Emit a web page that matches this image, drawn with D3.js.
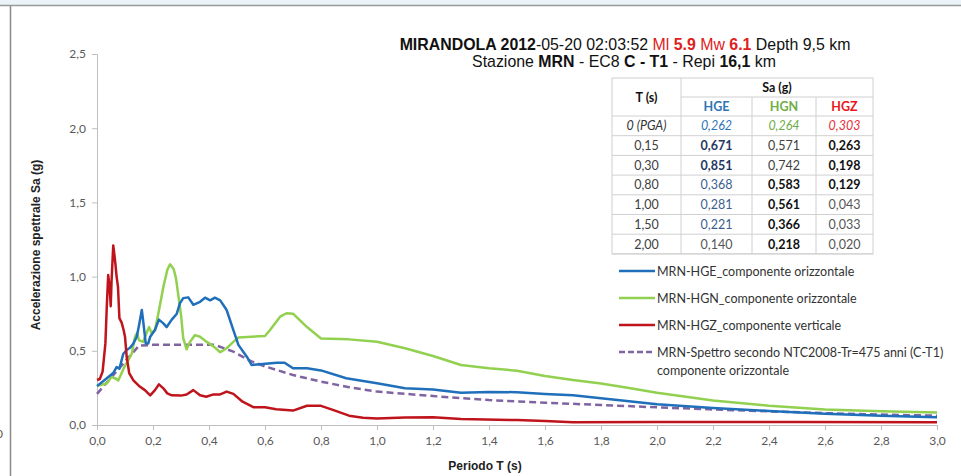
<!DOCTYPE html>
<html><head><meta charset="utf-8">
<script src="https://cdn.jsdelivr.net/npm/d3@7"></script>
<style>
html,body{margin:0;padding:0;background:#fff;}
svg{display:block;}
</style></head>
<body>
<script>
// ---------- DATA ----------
const xTicks = [0,0.2,0.4,0.6,0.8,1.0,1.2,1.4,1.6,1.8,2.0,2.2,2.4,2.6,2.8,3.0];
const yTicks = [0,0.5,1.0,1.5,2.0,2.5];

// [T (s), Sa (g)]
const hge = [[0,0.262],[0.035,0.315],[0.058,0.35],[0.07,0.39],[0.08,0.38],[0.094,0.48],[0.106,0.505],[0.118,0.52],[0.13,0.55],[0.142,0.595],[0.15,0.671],[0.16,0.775],[0.165,0.70],[0.174,0.55],[0.183,0.55],[0.19,0.595],[0.207,0.64],[0.221,0.71],[0.237,0.685],[0.249,0.66],[0.267,0.71],[0.285,0.75],[0.296,0.82],[0.308,0.855],[0.326,0.86],[0.344,0.81],[0.368,0.83],[0.386,0.858],[0.404,0.84],[0.421,0.858],[0.44,0.84],[0.463,0.775],[0.487,0.64],[0.505,0.54],[0.535,0.46],[0.552,0.405],[0.582,0.41],[0.642,0.42],[0.67,0.42],[0.70,0.382],[0.75,0.382],[0.8,0.368],[0.89,0.315],[1.0,0.281],[1.1,0.247],[1.2,0.24],[1.3,0.218],[1.4,0.223],[1.5,0.221],[1.6,0.209],[1.7,0.2],[1.8,0.18],[1.9,0.16],[2.0,0.14],[2.2,0.115],[2.4,0.095],[2.6,0.075],[2.8,0.062],[3.0,0.052]];

const hgn = [[0,0.264],[0.035,0.28],[0.052,0.325],[0.07,0.31],[0.076,0.30],[0.088,0.35],[0.1,0.40],[0.11,0.43],[0.124,0.48],[0.136,0.595],[0.143,0.62],[0.15,0.571],[0.165,0.56],[0.177,0.62],[0.186,0.66],[0.195,0.62],[0.207,0.64],[0.219,0.75],[0.237,0.93],[0.251,1.045],[0.261,1.083],[0.274,1.05],[0.282,0.99],[0.3,0.742],[0.308,0.585],[0.32,0.51],[0.332,0.56],[0.35,0.606],[0.368,0.595],[0.392,0.56],[0.416,0.53],[0.44,0.49],[0.463,0.517],[0.487,0.56],[0.505,0.59],[0.6,0.60],[0.618,0.64],[0.654,0.73],[0.677,0.753],[0.7,0.75],[0.75,0.66],[0.8,0.583],[0.9,0.577],[1.0,0.561],[1.1,0.517],[1.2,0.465],[1.3,0.404],[1.4,0.382],[1.5,0.366],[1.6,0.33],[1.7,0.303],[1.8,0.28],[1.9,0.25],[2.0,0.218],[2.2,0.165],[2.4,0.13],[2.6,0.105],[2.8,0.092],[3.0,0.085]];

const hgz = [[0,0.303],[0.01,0.31],[0.02,0.36],[0.03,0.55],[0.035,0.80],[0.04,1.01],[0.045,0.93],[0.049,0.80],[0.052,0.97],[0.058,1.21],[0.062,1.15],[0.066,1.08],[0.07,1.0],[0.075,0.93],[0.08,0.72],[0.088,0.69],[0.095,0.64],[0.1,0.595],[0.106,0.46],[0.115,0.35],[0.13,0.30],[0.15,0.263],[0.171,0.235],[0.19,0.20],[0.207,0.235],[0.221,0.274],[0.237,0.247],[0.251,0.213],[0.267,0.20],[0.3,0.198],[0.32,0.205],[0.344,0.235],[0.368,0.20],[0.39,0.19],[0.416,0.206],[0.44,0.206],[0.463,0.225],[0.487,0.21],[0.52,0.157],[0.56,0.119],[0.6,0.12],[0.64,0.106],[0.7,0.097],[0.75,0.13],[0.8,0.129],[0.845,0.10],[0.9,0.063],[0.95,0.049],[1.0,0.043],[1.1,0.05],[1.2,0.052],[1.3,0.04],[1.5,0.033],[1.6,0.027],[1.7,0.018],[2.0,0.02],[2.5,0.02],[3.0,0.018]];

const ntc = [[0,0.21],[0.15,0.535],[0.2,0.54],[0.42,0.54],[0.487,0.494],[0.55,0.43],[0.6,0.395],[0.7,0.337],[0.8,0.292],[0.9,0.255],[1.0,0.225],[1.2,0.195],[1.4,0.168],[1.6,0.15],[1.8,0.135],[2.0,0.119],[2.2,0.105],[2.4,0.092],[2.6,0.08],[2.8,0.07],[3.0,0.063]];

const seriesNames = ["MRN-HGE_componente orizzontale","MRN-HGN_componente orizzontale","MRN-HGZ_componente verticale","MRN-Spettro secondo NTC2008-Tr=475 anni (C-T1)|componente orizzontale"];

// table
const tabT   = ["0 (PGA)","0,15","0,30","0,80","1,00","1,50","2,00"];
const tabHGE = ["0,262","0,671","0,851","0,368","0,281","0,221","0,140"];
const tabHGN = ["0,264","0,571","0,742","0,583","0,561","0,366","0,218"];
const tabHGZ = ["0,303","0,263","0,198","0,129","0,043","0,033","0,020"];

// ---------- DRAW ----------
const W=961,H=476;
const svg=d3.select("body").append("svg").attr("width",W).attr("height",H);
const calibri="Lato, 'Open Sans', sans-serif";
const arial="'Liberation Sans', Arial, sans-serif";

// frame
svg.append("rect").attr("x",0).attr("y",0).attr("width",W).attr("height",5).attr("fill","#eaf3f8");
svg.append("line").attr("x1",0).attr("x2",W).attr("y1",5.5).attr("y2",5.5).attr("stroke","#9a9a9a").attr("stroke-width",1.5);
svg.append("line").attr("x1",10.5).attr("x2",10.5).attr("y1",6).attr("y2",H).attr("stroke","#8a8a8a").attr("stroke-width",1.5);
svg.append("text").attr("x",-4).attr("y",438).attr("font-family",calibri).attr("font-size",12).attr("fill","#595959").text("0");

const x=d3.scaleLinear().domain([0,3]).range([97,937]);
const y=d3.scaleLinear().domain([0,2.5]).range([425,54]);

// axes
const xAxis=svg.append("g").attr("transform","translate(0,425)")
  .call(d3.axisBottom(x).tickValues(xTicks).tickSize(5).tickPadding(6).tickFormat(d=>d3.format(".1f")(d).replace(".",",")));
const yAxis=svg.append("g").attr("transform","translate(97,0)")
  .call(d3.axisLeft(y).tickValues(yTicks).tickSize(5).tickPadding(6).tickFormat(d=>d3.format(".1f")(d).replace(".",",")));
[xAxis,yAxis].forEach(g=>{
  g.select(".domain").attr("stroke","#bfbfbf").attr("stroke-width",1);
  g.selectAll(".tick line").attr("stroke","#bfbfbf");
  g.selectAll(".tick text").attr("font-family",calibri).attr("font-size",12).attr("fill","#595959");
});

// axis titles
svg.append("text").attr("transform","translate(40,245) rotate(-90)").attr("text-anchor","middle")
  .attr("font-family",arial).attr("font-weight","bold").attr("font-size",12).attr("fill","#222").text("Accelerazione spettrale Sa (g)");
svg.append("text").attr("x",485).attr("y",470).attr("text-anchor","middle")
  .attr("font-family",arial).attr("font-weight","bold").attr("font-size",12).attr("fill","#222").text("Periodo T (s)");

// lines
const line=d3.line().x(d=>x(d[0])).y(d=>y(d[1]));
const styles=[
  {data:ntc,color:"#8064a2",dash:"7,4",w:2.5},
  {data:hgn,color:"#92d050",dash:null,w:2.5},
  {data:hge,color:"#1f6fba",dash:null,w:2.5},
  {data:hgz,color:"#c0141c",dash:null,w:2.5}
];
styles.forEach(s=>{
  svg.append("path").datum(s.data).attr("d",line).attr("fill","none")
    .attr("stroke",s.color).attr("stroke-width",s.w).attr("stroke-linejoin","round")
    .attr("stroke-dasharray",s.dash);
});

// title
const t1=svg.append("text").attr("x",625).attr("y",50).attr("text-anchor","middle").attr("font-family",arial).attr("font-size",15.9).attr("fill","#111");
[["MIRANDOLA 2012","bold","#111"],["-05-20 02:03:52 ","normal","#111"],["Ml ","normal","#e0201c"],["5.9","bold","#e0201c"],[" Mw ","normal","#e0201c"],["6.1","bold","#e0201c"],[" Depth 9,5 km","normal","#111"]]
  .forEach(p=>t1.append("tspan").attr("font-weight",p[1]).attr("fill",p[2]).text(p[0]));
const t2=svg.append("text").attr("x",624).attr("y",67).attr("text-anchor","middle").attr("font-family",arial).attr("font-size",15.9).attr("fill","#111");
[["Stazione ","normal"],["MRN","bold"],[" - EC8 ","normal"],["C - T1","bold"],[" - Repi ","normal"],["16,1","bold"],[" km","normal"]]
  .forEach(p=>t2.append("tspan").attr("font-weight",p[1]).text(p[0]));

// table
const colX=[612,681,752,816,873];
const rowY0=78, hdrH=19, rowH=19.7;
const tg=svg.append("g");
const bodyTop=rowY0+2*hdrH;
const tabBottom=bodyTop+tabT.length*rowH;
tg.append("rect").attr("x",colX[0]).attr("y",rowY0).attr("width",colX[4]-colX[0]).attr("height",tabBottom-rowY0).attr("fill","#fff").attr("stroke","#d0d0d0");
tg.append("line").attr("x1",colX[1]).attr("x2",colX[1]).attr("y1",rowY0).attr("y2",tabBottom).attr("stroke","#d0d0d0");
[colX[2],colX[3]].forEach(cx=>tg.append("line").attr("x1",cx).attr("x2",cx).attr("y1",rowY0+hdrH).attr("y2",tabBottom).attr("stroke","#d0d0d0"));
tg.append("line").attr("x1",colX[1]).attr("x2",colX[4]).attr("y1",rowY0+hdrH).attr("y2",rowY0+hdrH).attr("stroke","#d0d0d0");
for(let i=0;i<=tabT.length;i++){
  const yy=bodyTop+i*rowH;
  tg.append("line").attr("x1",colX[0]).attr("x2",colX[4]).attr("y1",yy).attr("y2",yy).attr("stroke","#d0d0d0");
}
const cx=i=>(colX[i]+colX[i+1])/2;
function cell(txt,i,yc,opt){
  tg.append("text").attr("x",cx(i)).attr("y",yc+4.5).attr("text-anchor","middle")
    .attr("font-family",calibri).attr("font-size",12.5)
    .attr("font-weight",opt.b?"bold":"normal").attr("font-style",opt.it?"italic":"normal")
    .attr("fill",opt.c||"#404040").text(txt);
}
cell("T (s)",0,rowY0+hdrH,{b:true,c:"#111"});
tg.append("text").attr("x",(colX[1]+colX[4])/2).attr("y",rowY0+hdrH/2+4.5).attr("text-anchor","middle")
  .attr("font-family",calibri).attr("font-size",12.5).attr("font-weight","bold").attr("fill","#111").text("Sa (g)");
cell("HGE",1,rowY0+1.5*hdrH,{b:true,c:"#2e75b6"});
cell("HGN",2,rowY0+1.5*hdrH,{b:true,c:"#70ad47"});
cell("HGZ",3,rowY0+1.5*hdrH,{b:true,c:"#e8151b"});
const stHGE=[{it:true,c:"#2e75b6"},{b:true,c:"#1f3864"},{b:true,c:"#1f3864"},{c:"#3d5f8f"},{c:"#3d5f8f"},{c:"#3d5f8f"},{c:"#555"}];
const stHGN=[{it:true,c:"#70ad47"},{c:"#404040"},{c:"#404040"},{b:true,c:"#111"},{b:true,c:"#111"},{b:true,c:"#111"},{b:true,c:"#111"}];
const stHGZ=[{it:true,c:"#e8303a"},{b:true,c:"#111"},{b:true,c:"#111"},{b:true,c:"#111"},{c:"#555"},{c:"#555"},{c:"#555"}];
tabT.forEach((t,i)=>{
  const yc=bodyTop+(i+0.5)*rowH;
  cell(t,0,yc,i===0?{it:true,c:"#333"}:{c:"#404040"});
  cell(tabHGE[i],1,yc,stHGE[i]);
  cell(tabHGN[i],2,yc,stHGN[i]);
  cell(tabHGZ[i],3,yc,stHGZ[i]);
});

// legend
const legY=[271,298,325,352];
const legColors=["#1f6fba","#92d050","#c0141c","#8064a2"];
seriesNames.forEach((n,i)=>{
  svg.append("line").attr("x1",619).attr("x2",655).attr("y1",legY[i]).attr("y2",legY[i])
    .attr("stroke",legColors[i]).attr("stroke-width",2.5).attr("stroke-dasharray",i===3?"6,3":null);
  const parts=n.split("|");
  parts.forEach((p,k)=>svg.append("text").attr("x",657).attr("y",legY[i]+4.5+k*18)
    .attr("font-family",calibri).attr("font-size",12.5).attr("fill","#333").text(p));
});
</script>
</body></html>
